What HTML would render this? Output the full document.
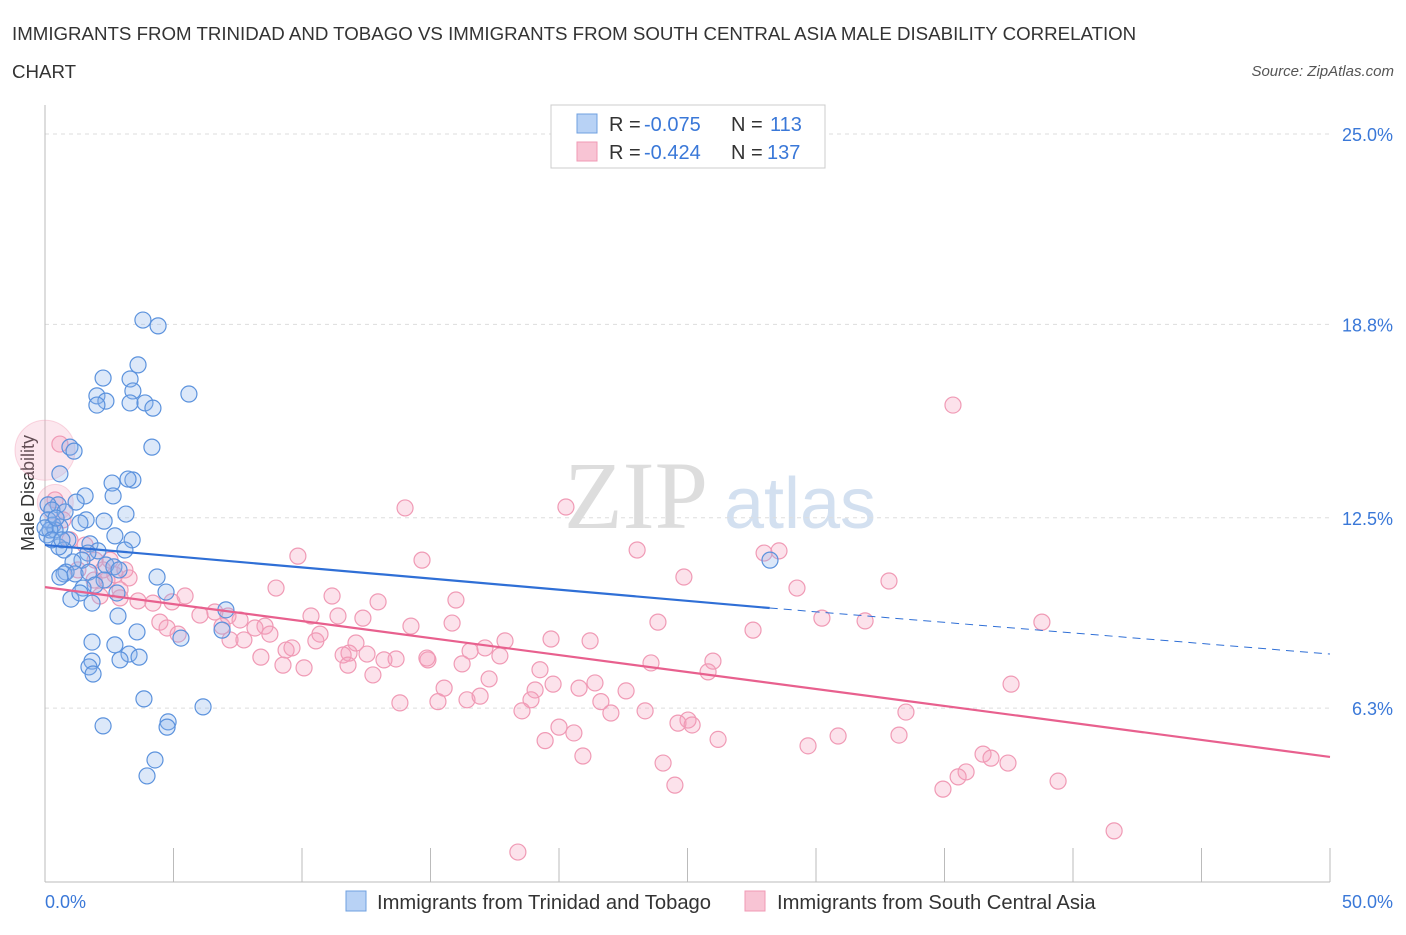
<!DOCTYPE html>
<html><head><meta charset="utf-8"><style>
body{margin:0;background:#fff;font-family:"Liberation Sans",sans-serif;}
</style></head><body>
<svg id="chart" width="1406" height="930" xmlns="http://www.w3.org/2000/svg">
<text x="12" y="40" font-size="18.7" fill="#333">IMMIGRANTS FROM TRINIDAD AND TOBAGO VS IMMIGRANTS FROM SOUTH CENTRAL ASIA MALE DISABILITY CORRELATION</text>
<text x="12" y="78" font-size="18.7" fill="#333">CHART</text>
<text x="1394" y="76" font-size="15" fill="#555" font-style="italic" text-anchor="end">Source: ZipAtlas.com</text>
<text x="636" y="528" font-size="96" fill="#ddd" font-family="Liberation Serif, serif" text-anchor="middle">ZIP</text>
<text x="800" y="528" font-size="72" fill="#d3e0f0" text-anchor="middle">atlas</text>
<g id="grid"></g>
<line x1="45" y1="105" x2="45" y2="882" stroke="#bbb"/>
<line x1="45" y1="882" x2="1330" y2="882" stroke="#bbb"/>
<g id="xt"></g>
<text x="34" y="493" font-size="18" fill="#333" transform="rotate(-90 34 493)" text-anchor="middle">Male Disability</text>
<text x="45" y="908" font-size="18" fill="#3a78d8">0.0%</text>
<text x="1393" y="908" font-size="18" fill="#3a78d8" text-anchor="end">50.0%</text>
<g id="pts"></g>
<g id="lines"></g>
<g>
<rect x="551" y="105" width="274" height="63" fill="#fff" stroke="#ccc"/>
<rect x="577" y="114" width="20" height="19" fill="#b8d2f5" stroke="#6fa0e0"/>
<rect x="577" y="142" width="20" height="19" fill="#f8c4d4" stroke="#f09ab5"/>
<text x="609" y="131" font-size="20" fill="#333">R =</text>
<text x="644" y="131" font-size="20" fill="#3a78d8">-0.075</text>
<text x="731" y="131" font-size="20" fill="#333">N =</text>
<text x="770" y="131" font-size="20" fill="#3a78d8">113</text>
<text x="609" y="159" font-size="20" fill="#333">R =</text>
<text x="644" y="159" font-size="20" fill="#3a78d8">-0.424</text>
<text x="731" y="159" font-size="20" fill="#333">N =</text>
<text x="767" y="159" font-size="20" fill="#3a78d8">137</text>
</g>
<g>
<rect x="346" y="891" width="20" height="20" fill="#b8d2f5" stroke="#6fa0e0"/>
<text x="377" y="909" font-size="20.2" fill="#333">Immigrants from Trinidad and Tobago</text>
<rect x="745" y="891" width="20" height="20" fill="#f8c4d4" stroke="#f09ab5"/>
<text x="777" y="909" font-size="20.2" fill="#333">Immigrants from South Central Asia</text>
</g>
</svg>
<script>
const yTicks=[25.0,18.8,12.5,6.3];
const yTickLabels=["25.0%","18.8%","12.5%","6.3%"];
const xTicks=[0,5,10,15,20,25,30,35,40,45,50];
const blueX=[3.81,4.40,3.62,2.26,3.31,3.42,2.02,2.37,2.02,3.31,3.89,4.20,5.60,4.16,0.97,1.13,0.58,3.42,2.61,3.23,1.56,2.65,0.51,1.21,3.15,2.30,0.12,0.27,0.78,1.60,1.36,0.31,0.58,2.72,3.39,0.08,0.39,0.89,1.75,2.06,3.11,0.74,0.54,1.67,1.44,1.09,2.37,2.68,2.88,0.82,0.74,1.17,1.71,0.58,2.30,4.36,1.95,1.48,4.71,2.80,1.01,1.83,1.36,2.84,7.04,3.58,5.29,6.89,1.83,2.72,3.27,3.66,2.92,1.83,1.71,1.87,3.85,6.15,2.26,4.79,4.75,4.28,3.97,28.21,0.12,0.19,0,0.27,0.43,0.66];
const blueY=[18.94,18.75,17.48,17.05,17.02,16.63,16.47,16.30,16.17,16.24,16.24,16.07,16.53,14.80,14.80,14.67,13.93,13.73,13.63,13.76,13.21,13.21,12.92,13.01,12.62,12.39,12.92,12.75,12.69,12.43,12.33,12.26,12.20,11.91,11.78,11.94,12.10,11.78,11.65,11.42,11.45,11.45,11.55,11.35,11.12,11.06,10.96,10.90,10.80,10.73,10.67,10.67,10.73,10.57,10.47,10.57,10.31,10.21,10.08,10.05,9.85,9.72,10.05,9.30,9.50,8.78,8.58,8.84,8.45,8.36,8.06,7.96,7.87,7.83,7.64,7.41,6.60,6.34,5.72,5.85,5.68,4.61,4.09,11.12,12.43,12.10,12.17,11.78,12.49,11.78];
const pinkX=[35.33,14.01,20.27,23.04,27.98,28.56,9.84,14.67,24.86,32.84,29.26,8.99,11.17,15.99,12.96,4.94,4.20,3.62,3.27,2.41,2.92,2.14,1.91,5.45,6.03,6.61,7.12,7.59,8.56,10.35,11.40,12.37,30.23,31.91,38.79,23.85,27.55,14.24,15.84,4.47,4.75,5.18,6.89,8.17,8.75,7.20,7.74,10.70,10.54,12.10,17.90,19.69,21.21,17.12,16.54,17.70,13.66,14.90,12.53,11.83,11.60,9.38,9.61,10.08,11.79,13.19,14.86,16.23,8.40,9.26,23.58,25.99,25.80,19.26,17.28,19.77,21.40,22.61,15.53,20.78,19.07,12.76,13.81,15.29,16.42,16.93,18.91,21.63,22.02,23.35,18.56,20.00,20.58,37.59,33.50,25.02,24.63,25.18,26.19,19.46,20.93,24.05,29.69,30.86,33.23,36.50,36.81,37.47,35.84,35.53,34.94,39.42,24.51,41.60,18.40,0.58,0.39,0.70,0.97,1.56,1.95,2.53,1.28,2.72,3.11,2.26,2.92];
const pinkY=[16.17,12.82,12.85,11.45,11.35,11.42,11.25,11.12,10.57,10.44,10.21,10.21,9.95,9.82,9.76,9.76,9.72,9.79,10.54,10.47,10.15,9.95,10.47,9.95,9.33,9.43,9.30,9.17,8.97,9.30,9.30,9.23,9.23,9.14,9.10,9.10,8.84,8.97,9.07,9.10,8.91,8.71,8.97,8.91,8.71,8.52,8.52,8.71,8.49,8.42,8.49,8.55,8.49,8.26,8.16,8.00,7.90,7.87,8.06,8.09,8.03,8.19,8.26,7.61,7.70,7.87,7.93,7.74,7.96,7.70,7.77,7.83,7.48,7.55,7.25,7.08,7.12,6.86,6.95,6.95,6.89,7.38,6.47,6.51,6.57,6.69,6.57,6.51,6.14,6.21,6.21,5.68,5.49,7.08,6.17,5.91,5.81,5.75,5.28,5.24,4.74,4.51,5.07,5.39,5.42,4.80,4.67,4.51,4.22,4.06,3.66,3.92,3.79,2.30,1.61,14.90,13.08,12.43,11.78,11.61,11.12,11.12,10.80,10.64,10.80,10.80,9.89];
const bigPinkX=[0,0.4];
const bigPinkY=[14.7,13.0];
const blueTrend=[[0,11.61],[28.2,9.56],[50,8.06]];
const pinkTrend=[[0,10.24],[50,4.71]];
const NS="http://www.w3.org/2000/svg";
const sx=v=>45+v*25.7;
const sy=v=>134+(25-v)*30.7;
function mk(tag,attrs,parent){const e=document.createElementNS(NS,tag);for(const k in attrs)e.setAttribute(k,attrs[k]);parent.appendChild(e);return e;}
const grid=document.getElementById('grid');
yTicks.forEach((t,i)=>{
 const l=mk('line',{x1:45,x2:1330,y1:sy(t),y2:sy(t),stroke:'#ddd','stroke-dasharray':'4,4'},grid);
 
 
 const tx=mk('text',{x:1393,y:sy(t)+7,'font-size':18,fill:'#3a78d8','text-anchor':'end'},grid);
 tx.textContent=yTickLabels[i];
 
 
});
const xt=document.getElementById('xt');
xTicks.forEach(t=>{
 const l=mk('line',{x1:sx(t),x2:sx(t),y1:848,y2:882,stroke:'#bbb'},xt);
 
 
});
const pts=document.getElementById('pts');
bigPinkX.forEach((x,i)=>{
 const c=mk('circle',{cx:sx(x),cy:sy(bigPinkY[i]),r:i?18:30,fill:'rgba(244,160,188,0.25)',stroke:'rgba(240,154,181,0.4)'},pts);
 
 
});
pinkX.forEach((x,i)=>{
 const c=mk('circle',{cx:sx(x),cy:sy(pinkY[i]),r:8,fill:'rgba(244,160,188,0.3)',stroke:'#f09ab5','stroke-width':1.2},pts);
 
 
});
blueX.forEach((x,i)=>{
 const c=mk('circle',{cx:sx(x),cy:sy(blueY[i]),r:8,fill:'rgba(140,180,235,0.3)',stroke:'#5b92dd','stroke-width':1.2},pts);
 
 
});
const lines=document.getElementById('lines');
const b1=mk('line',{x1:sx(blueTrend[0][0]),y1:sy(blueTrend[0][1]),x2:sx(blueTrend[1][0]),y2:sy(blueTrend[1][1]),stroke:'#2f6fd6','stroke-width':2.2},lines);


const b2=mk('line',{x1:sx(blueTrend[1][0]),y1:sy(blueTrend[1][1]),x2:sx(blueTrend[2][0]),y2:sy(blueTrend[2][1]),stroke:'#2f6fd6','stroke-width':1,'stroke-dasharray':'8,6'},lines);


const p1=mk('line',{x1:sx(pinkTrend[0][0]),y1:sy(pinkTrend[0][1]),x2:sx(pinkTrend[1][0]),y2:sy(pinkTrend[1][1]),stroke:'#e8608e','stroke-width':2.2},lines);


</script>
</body></html>
